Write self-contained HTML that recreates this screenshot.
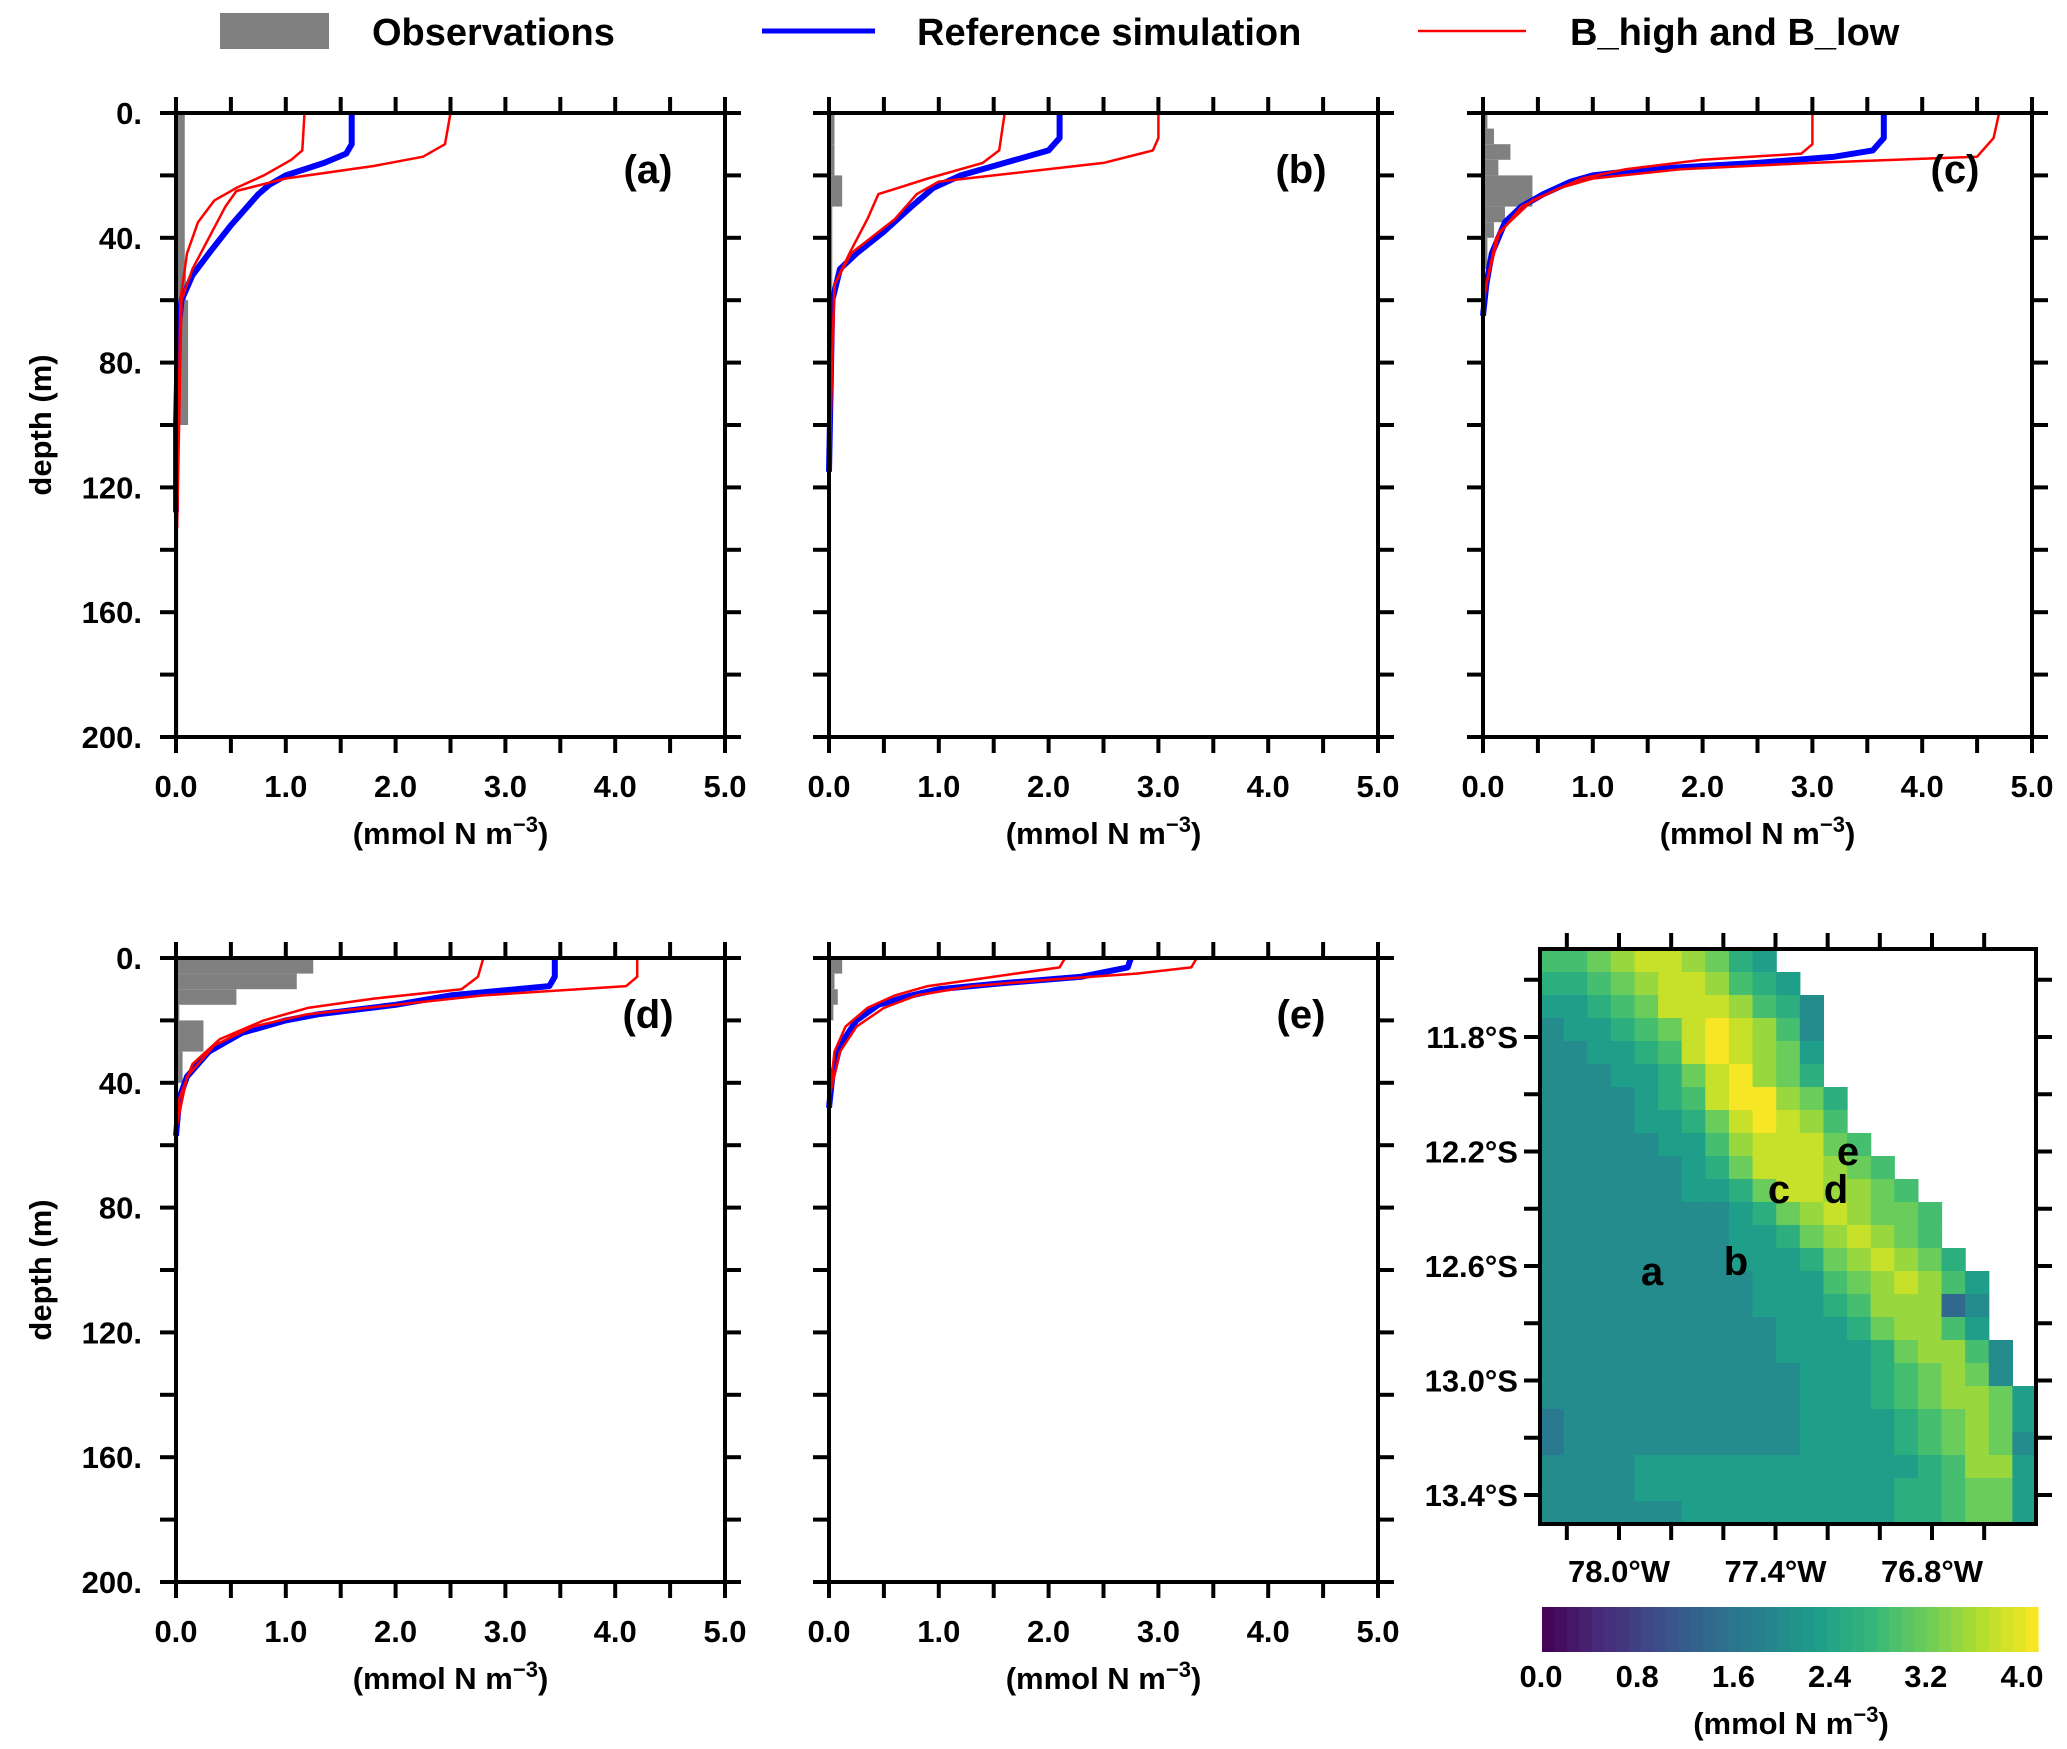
<!DOCTYPE html>
<html><head><meta charset="utf-8">
<style>
html,body{margin:0;padding:0;background:#fff;}
svg{display:block;font-family:"Liberation Sans",sans-serif;font-weight:bold;}
</style></head>
<body>
<svg id="fig" width="2067" height="1749" viewBox="0 0 2067 1749" xmlns="http://www.w3.org/2000/svg">
  <g>
    <rect x="220" y="13" width="109" height="36" fill="#808080"/>
    <text x="372" y="45" font-size="38">Observations</text>
    <line x1="762" y1="31" x2="875" y2="31" stroke="#0000ff" stroke-width="5"/>
    <text x="917" y="45" font-size="38">Reference simulation</text>
    <line x1="1418" y1="31" x2="1526" y2="31" stroke="#ff0000" stroke-width="2.5"/>
    <text x="1570" y="45" font-size="38">B_high and B_low</text>
  </g>
</svg>
<script>
// ---------- Profile data (depth in m, value in mmol N m-3) ----------
const aBlueD=[0,10,13,16,20,23,26,30,36,45,52,60,70,100,128];
const aBlueV=[1.6,1.6,1.55,1.35,1.0,0.85,0.75,0.65,0.5,0.3,0.15,0.05,0.02,0.0,0.0];
const aHighD=[0,10,14,17,21,25,30,40,50,60,133];
const aHighV=[2.5,2.45,2.25,1.8,1.0,0.55,0.45,0.3,0.15,0.05,0.01];
const aLowD=[0,12,15,20,24,28,35,45,60,133];
const aLowV=[1.17,1.15,1.05,0.8,0.55,0.35,0.2,0.1,0.04,0.01];
const aObsTop=[0,50,60,100];
const aObsBot=[50,60,100,200];
const aObsV=[0.08,0.09,0.11,0.02];

const bBlueD=[0,8,12,16,20,24,30,38,45,50,60,115];
const bBlueV=[2.1,2.1,2.0,1.6,1.2,0.95,0.75,0.5,0.25,0.1,0.03,0.0];
const bHighD=[0,8,12,16,20,22,26,34,45,55,115];
const bHighV=[3.0,3.0,2.95,2.5,1.5,1.0,0.8,0.6,0.2,0.05,0.0];
const bLowD=[0,12,16,21,26,34,44,55,117];
const bLowV=[1.6,1.55,1.4,0.9,0.45,0.35,0.2,0.05,0.0];
const bObsTop=[0,10,20,30];
const bObsBot=[10,20,30,60];
const bObsV=[0.05,0.05,0.12,0.03];

const cBlueD=[0,8,12,14,16,18,20,22,26,30,35,45,55,65];
const cBlueV=[3.65,3.65,3.55,3.2,2.5,1.5,1.0,0.8,0.55,0.35,0.2,0.08,0.03,0.0];
const cHighD=[0,8,14,16,18,21,24,30,40,55,62];
const cHighV=[4.7,4.65,4.5,3.0,1.8,1.0,0.7,0.35,0.12,0.03,0.0];
const cLowD=[0,10,13,15,18,21,28,38,55,62];
const cLowV=[3.0,3.0,2.9,2.0,1.3,0.9,0.45,0.15,0.03,0.0];
const cObsTop=[0,5,10,15,20,30,35,40];
const cObsBot=[5,10,15,20,30,35,40,50];
const cObsV=[0.04,0.1,0.25,0.14,0.45,0.2,0.1,0.04];

const dBlueD=[0,6,9,12,15,18,20,24,30,38,45,57];
const dBlueV=[3.45,3.45,3.4,2.5,2.0,1.3,1.0,0.6,0.3,0.1,0.03,0.0];
const dHighD=[0,6,9,12,15,18,22,28,38,55];
const dHighV=[4.2,4.2,4.1,2.8,2.0,1.2,0.7,0.35,0.1,0.0];
const dLowD=[0,6,10,13,16,20,26,34,45,55];
const dLowV=[2.8,2.75,2.6,1.8,1.2,0.8,0.4,0.15,0.03,0.0];
const dObsTop=[0,5,10,15,20,30,40];
const dObsBot=[5,10,15,20,30,40,100];
const dObsV=[1.25,1.1,0.55,0.03,0.25,0.06,0.02];

const eBlueD=[0,3,6,8,10,12,15,20,28,38,48];
const eBlueV=[2.75,2.72,2.3,1.6,1.0,0.75,0.45,0.25,0.1,0.03,0.0];
const eHighD=[0,3,5,7,9,12,16,22,30,45];
const eHighV=[3.35,3.3,2.8,2.0,1.3,0.8,0.5,0.25,0.1,0.0];
const eLowD=[0,3,6,9,12,16,22,30,46];
const eLowV=[2.15,2.1,1.5,0.9,0.6,0.35,0.15,0.05,0.0];
const eObsTop=[0,5,10,15];
const eObsBot=[5,10,15,20];
const eObsV=[0.12,0.05,0.08,0.04];

const xTickLabels=["0.0","1.0","2.0","3.0","4.0","5.0"];
const yTickLabels=["0.","40.","80.","120.","160.","200."];

// ---------- Heatmap data ----------
// level digits: value = 1.35 + d*0.29 ; '.' = land/masked
const mapRows=[
"5567887643...........",
"44567887543..........",
"334568887542.........",
"233456898752.........",
"223345898763.........",
"222334689764.........",
"2222345899764........",
"2222334689875........",
"22222335788865.......",
"222222346888765......",
"2222223346887765.....",
"22222222346787665....",
"22222222334678765....",
"222222223334678764...",
"2222222223335678753..",
"2222222223334577702..",
"2222222222333467753..",
"22222222223333467752.",
"22222222222333456762.",
"222222222223334567763",
"122222222223333456763",
"122222222223333456762",
"222233333333333345773",
"222233333333333445663",
"222222333333333445663"];
const latTicks=[11.8,12.2,12.6,13.0,13.4];
const latTickLabels=["11.8°S","12.2°S","12.6°S","13.0°S","13.4°S"];
const lonTicks=[78.0,77.4,76.8];
const lonTickLabels=["78.0°W","77.4°W","76.8°W"];
const cbarLabels=["0.0","0.8","1.6","2.4","3.2","4.0"];

const NS="http://www.w3.org/2000/svg";
const svg=document.getElementById('fig');
function el(tag,attrs,parent){const e=document.createElementNS(NS,tag);for(const k in attrs)e.setAttribute(k,attrs[k]);(parent||svg).appendChild(e);return e;}

const PW=549, PH=624;
const panels=[
 {id:'a',x:176,y:113,ylab:true,bd:aBlueD,bv:aBlueV,hd:aHighD,hv:aHighV,ld:aLowD,lv:aLowV,ot:aObsTop,ob:aObsBot,ov:aObsV},
 {id:'b',x:829,y:113,ylab:false,bd:bBlueD,bv:bBlueV,hd:bHighD,hv:bHighV,ld:bLowD,lv:bLowV,ot:bObsTop,ob:bObsBot,ov:bObsV},
 {id:'c',x:1483,y:113,ylab:false,bd:cBlueD,bv:cBlueV,hd:cHighD,hv:cHighV,ld:cLowD,lv:cLowV,ot:cObsTop,ob:cObsBot,ov:cObsV},
 {id:'d',x:176,y:958,ylab:true,bd:dBlueD,bv:dBlueV,hd:dHighD,hv:dHighV,ld:dLowD,lv:dLowV,ot:dObsTop,ob:dObsBot,ov:dObsV},
 {id:'e',x:829,y:958,ylab:false,bd:eBlueD,bv:eBlueV,hd:eHighD,hv:eHighV,ld:eLowD,lv:eLowV,ot:eObsTop,ob:eObsBot,ov:eObsV}
];

panels.forEach(p=>{
  const g=el('g',{});
  
  
  const sx=v=>p.x+v/5*PW, sy=d=>p.y+d/200*PH;
  p.ov.forEach((v,i)=>{
    const r=el('rect',{x:sx(0),y:sy(p.ot[i]),width:Math.max(sx(v)-sx(0),2),height:sy(p.ob[i])-sy(p.ot[i]),fill:'#808080'},g);
    
    
  });
  function line(ds,vs,color,w,name){
    const pts=ds.map((d,i)=>sx(vs[i]).toFixed(1)+','+sy(d).toFixed(1)).join(' ');
    const l=el('polyline',{points:pts,fill:'none',stroke:color,'stroke-width':w,'stroke-linejoin':'round'},g);
    
    
  }
  line(p.bd,p.bv,'#0000ff',6,'reference-line-'+p.id);
  line(p.hd,p.hv,'#ff0000',2.5,'b-high-line-'+p.id);
  line(p.ld,p.lv,'#ff0000',2.5,'b-low-line-'+p.id);
  const fr=el('rect',{x:p.x,y:p.y,width:PW,height:PH,fill:'none',stroke:'#000','stroke-width':4},g);
  
  
  for(let k=0;k<=10;k++){
    const x=sx(k*0.5);
    el('line',{x1:x,y1:p.y,x2:x,y2:p.y-16,stroke:'#000','stroke-width':4},g);
    el('line',{x1:x,y1:p.y+PH,x2:x,y2:p.y+PH+16,stroke:'#000','stroke-width':4},g);
  }
  xTickLabels.forEach((t,i)=>{
    const tx=el('text',{x:sx(i),y:p.y+PH+60,'font-size':31,'text-anchor':'middle'},g);
    tx.textContent=t;
    
    
  });
  for(let k=0;k<=10;k++){
    const y=sy(k*20);
    el('line',{x1:p.x,y1:y,x2:p.x-16,y2:y,stroke:'#000','stroke-width':4},g);
    el('line',{x1:p.x+PW,y1:y,x2:p.x+PW+16,y2:y,stroke:'#000','stroke-width':4},g);
  }
  if(p.ylab){
    yTickLabels.forEach((t,i)=>{
      const tx=el('text',{x:p.x-34,y:sy(i*40)+11,'font-size':31,'text-anchor':'end'},g);
      tx.textContent=t;
      
      
    });
    const yt=el('text',{x:0,y:0,'font-size':31,'text-anchor':'middle',transform:`translate(51,${p.y+PH/2}) rotate(-90)`},g);
    yt.textContent='depth (m)';
    
    
  }
  const xt=el('text',{x:p.x+PW/2,y:p.y+PH+107,'font-size':31,'text-anchor':'middle'},g);
  xt.innerHTML='(mmol N m<tspan dy="-12" font-size="22">−3</tspan><tspan dy="12">)</tspan>';
  
  
  const pl=el('text',{x:p.x+472,y:p.y+70,'font-size':40,'text-anchor':'middle'},g);
  pl.textContent='('+p.id+')';
  
  
});

const VIR=[[68,1,84],[72,40,120],[62,74,137],[49,104,142],[38,130,142],[31,158,137],[53,183,121],[109,205,89],[180,222,44],[253,231,37]];
function viridis(t){t=Math.max(0,Math.min(1,t));const f=t*(VIR.length-1);const i=Math.min(Math.floor(f),VIR.length-2);const u=f-i;const a=VIR[i],b=VIR[i+1];return `rgb(${Math.round(a[0]+(b[0]-a[0])*u)},${Math.round(a[1]+(b[1]-a[1])*u)},${Math.round(a[2]+(b[2]-a[2])*u)})`;}

const MX=1540,MY=949,MW=496,MH=575;
const mg=el('g',{});


const nCols=21,nRows=mapRows.length;
const cw=MW/nCols,ch=MH/nRows;
mapRows.forEach((row,r)=>{
  for(let c=0;c<row.length;c++){
    const chr=row[c]; if(chr==='.')continue;
    const v=1.35+parseInt(chr)*0.29;
    const cell=el('rect',{x:(MX+c*cw).toFixed(2),y:(MY+r*ch).toFixed(2),width:(cw+0.6).toFixed(2),height:(ch+0.6).toFixed(2),fill:viridis(v/4)},mg);
    
    
  }
});
const latY=lat=>1037+(lat-11.8)/0.4*114.5;
const lonX=lon=>1619+(78.0-lon)/0.6*156.5;
for(let k=-1;k<=9;k++){const lat=11.8+k*0.2;const y=latY(lat);if(y<MY||y>MY+MH)continue;
  el('line',{x1:MX,y1:y,x2:MX-16,y2:y,stroke:'#000','stroke-width':4},mg);
  el('line',{x1:MX+MW,y1:y,x2:MX+MW+16,y2:y,stroke:'#000','stroke-width':4},mg);}
for(let k=-2;k<=8;k++){const lon=78.0-k*0.2;const x=lonX(lon);if(x<MX||x>MX+MW)continue;
  el('line',{x1:x,y1:MY,x2:x,y2:MY-16,stroke:'#000','stroke-width':4},mg);
  el('line',{x1:x,y1:MY+MH,x2:x,y2:MY+MH+16,stroke:'#000','stroke-width':4},mg);}
const mf=el('rect',{x:MX,y:MY,width:MW,height:MH,fill:'none',stroke:'#000','stroke-width':4},mg);


latTicks.forEach((lat,i)=>{
  const t=el('text',{x:MX-22,y:latY(lat)+11,'font-size':31,'text-anchor':'end'},mg);
  t.textContent=latTickLabels[i];
  
  
});
lonTicks.forEach((lon,i)=>{
  const t=el('text',{x:lonX(lon),y:1582,'font-size':31,'text-anchor':'middle'},mg);
  t.textContent=lonTickLabels[i];
  
  
});
[['a',1652,1285],['b',1736,1275],['c',1779,1203],['d',1836,1203],['e',1848,1165]].forEach(s=>{
  const t=el('text',{x:s[1],y:s[2],'font-size':40,'text-anchor':'middle'},mg);
  t.textContent=s[0];
  
  
});

const CX=1542,CY=1607,CW=496,CH=45,NB=40;
const cg=el('g',{});


for(let i=0;i<NB;i++){
  const b=el('rect',{x:(CX+i*CW/NB).toFixed(2),y:CY,width:(CW/NB+0.6).toFixed(2),height:CH,fill:viridis((i+0.5)/NB)},cg);
  
  
}
cbarLabels.forEach((t,i)=>{
  const tx=el('text',{x:1541+i*(2022-1541)/5,y:1687,'font-size':31,'text-anchor':'middle'},cg);
  tx.textContent=t;
  
  
});
const ct=el('text',{x:1791,y:1734,'font-size':31,'text-anchor':'middle'},cg);
ct.innerHTML='(mmol N m<tspan dy="-12" font-size="22">−3</tspan><tspan dy="12">)</tspan>';


</script>
</body></html>
